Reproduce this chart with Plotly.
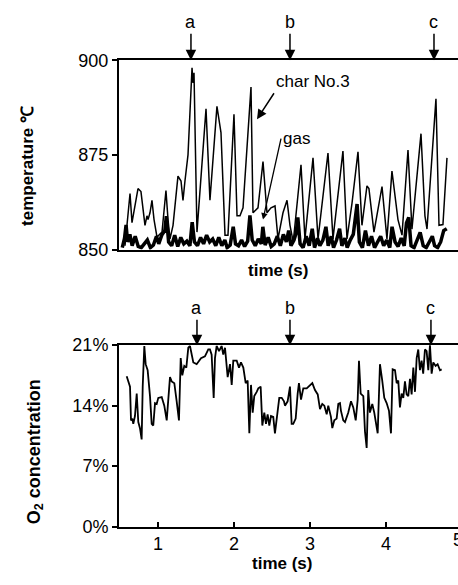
import plotly.graph_objects as go

FONT = "Liberation Sans, Arial, Helvetica, sans-serif"

# ---------------- data ----------------
char_time = [0.566, 0.579, 0.632, 0.658, 0.737, 0.776, 0.829, 0.855, 0.869, 0.895,
             0.921, 0.948, 0.987, 1.053, 1.105, 1.132, 1.158, 1.198, 1.263, 1.303,
             1.329, 1.355, 1.395, 1.448, 1.461, 1.474, 1.513, 1.632, 1.684, 1.776,
             1.829, 1.882, 1.921, 2.000, 2.040, 2.079, 2.119, 2.224, 2.250, 2.316,
             2.382, 2.434, 2.487, 2.540, 2.579, 2.645, 2.698, 2.737, 2.780, 2.882,
             2.934, 3.040, 3.106, 3.237, 3.303, 3.434, 3.487, 3.553, 3.632, 3.684,
             3.750, 3.776, 3.842, 3.948, 4.013, 4.079, 4.145, 4.158, 4.211, 4.290,
             4.342, 4.461, 4.513, 4.540, 4.658, 4.698, 4.750, 4.803]
char_temp = [851.0, 853.8, 864.8, 857.1, 866.1, 865.3, 856.4, 858.9, 857.9, 859.7,
             863.0, 857.9, 853.3, 854.6, 865.6, 857.9, 852.8, 856.4, 869.4, 868.1,
             863.0, 868.1, 875.0, 898.0, 894.0, 896.7, 854.6, 887.2, 863.0, 887.8,
             880.9, 853.8, 853.8, 885.7, 858.9, 858.9, 861.0, 892.9, 859.7, 861.0,
             873.2, 859.7, 861.0, 861.5, 852.8, 859.7, 863.0, 856.4, 852.0, 872.4,
             852.8, 874.2, 852.8, 875.5, 852.8, 876.0, 852.8, 862.2, 875.8, 856.4,
             866.8, 866.1, 854.6, 866.6, 852.8, 870.7, 860.5, 857.9, 853.8, 876.3,
             855.4, 880.6, 858.9, 855.4, 889.8, 856.4, 856.6, 874.2]

gas_time = [0.53, 0.56, 0.58, 0.60, 0.63, 0.66, 0.70, 0.74, 0.78, 0.82,
            0.86, 0.90, 0.94, 0.98, 1.01, 1.05, 1.09, 1.11, 1.14, 1.18,
            1.22, 1.26, 1.30, 1.34, 1.38, 1.42, 1.45, 1.48, 1.52, 1.56,
            1.60, 1.64, 1.68, 1.72, 1.76, 1.80, 1.84, 1.88, 1.91, 1.95,
            1.99, 2.02, 2.06, 2.10, 2.14, 2.18, 2.21, 2.24, 2.28, 2.32,
            2.36, 2.38, 2.41, 2.45, 2.49, 2.53, 2.57, 2.61, 2.65, 2.69,
            2.72, 2.75, 2.79, 2.82, 2.84, 2.87, 2.91, 2.95, 2.99, 3.03,
            3.06, 3.10, 3.13, 3.17, 3.21, 3.24, 3.28, 3.31, 3.35, 3.39,
            3.42, 3.46, 3.49, 3.53, 3.57, 3.62, 3.65, 3.69, 3.73, 3.77,
            3.81, 3.85, 3.89, 3.93, 3.97, 4.01, 4.05, 4.08, 4.12, 4.16,
            4.20, 4.24, 4.27, 4.30, 4.33, 4.37, 4.41, 4.45, 4.49, 4.53,
            4.57, 4.61, 4.64, 4.68, 4.72, 4.76, 4.80]
gas_temp = [850.5, 853.0, 856.5, 852.0, 854.0, 851.0, 853.5, 850.8, 850.5, 851.5,
            852.5, 850.5, 851.2, 853.5, 851.5, 853.8, 855.0, 858.8, 852.0, 851.0,
            853.8, 850.8, 853.2, 851.5, 852.2, 851.0, 857.2, 852.0, 851.0, 853.2,
            851.5, 853.8, 852.0, 852.8, 851.0, 853.2, 851.0, 852.5, 850.5, 851.2,
            856.0, 851.5, 851.0, 852.5, 850.8, 852.2, 859.0, 852.5, 851.0, 852.8,
            851.5, 856.0, 851.2, 853.2, 850.8, 851.5, 853.5, 851.0, 854.0, 852.0,
            855.0, 851.0, 852.5, 854.5, 858.5, 851.5, 850.5, 853.5, 851.0, 855.5,
            850.5, 853.0, 851.0, 852.5, 856.0, 851.0, 853.5, 850.5, 852.5, 855.5,
            851.0, 853.0, 850.5, 852.5, 854.0, 862.0, 852.0, 850.5, 855.0, 851.0,
            853.5, 850.5, 852.0, 853.5, 851.0, 852.5, 850.5, 856.0, 852.0, 850.8,
            853.0, 851.0, 857.0, 858.5, 851.0, 850.5, 852.5, 854.5, 851.0, 850.5,
            852.0, 853.5, 851.0, 850.5, 852.0, 855.0, 855.5]

o2_time = [0.588, 0.619, 0.632, 0.645, 0.662, 0.675, 0.697, 0.720, 0.741, 0.763,
           0.785, 0.799, 0.820, 0.838, 0.864, 0.895, 0.917, 0.938, 0.961, 0.983,
           1.004, 1.049, 1.083, 1.115, 1.136, 1.158, 1.180, 1.215, 1.246, 1.276,
           1.299, 1.320, 1.346, 1.373, 1.399, 1.421, 1.465, 1.509, 1.566, 1.618,
           1.662, 1.684, 1.706, 1.733, 1.750, 1.772, 1.803, 1.838, 1.859, 1.882,
           1.917, 1.948, 1.970, 1.991, 2.036, 2.066, 2.092, 2.123, 2.154, 2.180,
           2.202, 2.224, 2.246, 2.267, 2.299, 2.320, 2.351, 2.373, 2.399, 2.421,
           2.443, 2.465, 2.487, 2.517, 2.539, 2.570, 2.596, 2.628, 2.658, 2.671,
           2.706, 2.737, 2.759, 2.780, 2.812, 2.838, 2.855, 2.882, 2.912, 2.957,
           3.000, 3.031, 3.066, 3.102, 3.132, 3.162, 3.189, 3.220, 3.241, 3.276,
           3.294, 3.320, 3.351, 3.373, 3.395, 3.408, 3.438, 3.461, 3.504, 3.540,
           3.570, 3.602, 3.628, 3.645, 3.667, 3.702, 3.724, 3.746, 3.767, 3.789,
           3.820, 3.846, 3.891, 3.921, 3.951, 3.978, 4.009, 4.040, 4.066, 4.088,
           4.119, 4.141, 4.162, 4.184, 4.206, 4.228, 4.250, 4.272, 4.294, 4.316,
           4.338, 4.360, 4.382, 4.404, 4.425, 4.447, 4.469, 4.490, 4.513, 4.535,
           4.557, 4.579, 4.601, 4.623, 4.654, 4.680, 4.711, 4.733]
o2_pct = [17.4, 16.6, 16.2, 12.3, 12.5, 11.9, 12.8, 15.4, 12.1, 11.4,
          10.1, 16.2, 20.9, 18.8, 18.1, 15.1, 11.9, 11.7, 14.3, 14.2,
          14.9, 15.0, 14.0, 12.3, 14.7, 17.3, 16.8, 16.6, 14.5, 12.3,
          19.5, 17.5, 18.6, 18.4, 20.7, 20.9, 19.0, 18.8, 19.5, 19.7,
          20.5, 20.5, 19.9, 14.9, 19.5, 20.9, 20.3, 20.9, 19.9, 20.7,
          17.3, 18.8, 16.4, 19.2, 19.2, 18.4, 19.0, 18.4, 16.6, 16.9,
          10.8, 16.4, 13.2, 15.1, 15.6, 16.0, 16.2, 11.7, 13.2, 11.9,
          13.0, 11.7, 12.8, 12.7, 10.8, 12.8, 14.9, 14.9, 14.5, 14.0,
          14.5, 16.2, 11.9, 11.9, 12.5, 15.4, 16.6, 14.7, 16.0, 16.0,
          16.4, 16.6, 15.8, 15.3, 13.6, 14.2, 14.0, 13.0, 14.0, 12.7,
          11.4, 12.3, 12.5, 14.2, 14.3, 13.4, 12.3, 12.1, 13.2, 14.5,
          13.8, 12.3, 14.7, 19.2, 15.4, 15.1, 11.0, 9.1, 15.8, 13.2,
          14.2, 13.2, 10.8, 18.8, 16.9, 14.9, 14.3, 13.4, 10.8, 18.2,
          18.1, 16.6, 16.9, 13.8, 15.4, 14.9, 16.8, 15.3, 15.1, 17.1,
          15.3, 18.4, 15.6, 19.5, 20.5, 18.1, 19.2, 17.7, 20.5, 20.3,
          18.1, 21.0, 17.7, 19.0, 18.6, 18.8, 18.1, 18.2]

temp_ticks = [850, 875, 900]
o2_ticks = [0, 7, 14, 21]
o2_ticklabels = ["0%", "7%", "14%", "21%"]
time_ticks = [1, 2, 3, 4]
event_labels = ["a", "b", "c"]
event_time_top = [1.434, 2.737, 4.632]
event_time_bottom = [1.513, 2.737, 4.592]

# ---------------- layout geometry ----------------
W, H = 458, 585
x_range = [0.487, 4.948]
x_dom = [119 / W, 1.0]
y_top_dom = [1 - 248 / H, 1 - 52 / H]
y_bot_dom = [1 - 535 / H, 1 - 347 / H]

fig = go.Figure()
fig.add_trace(go.Scatter(x=char_time, y=char_temp, mode="lines", name="char No.3",
                         line=dict(color="black", width=1.5), xaxis="x", yaxis="y"))
fig.add_trace(go.Scatter(x=gas_time, y=gas_temp, mode="lines", name="gas",
                         line=dict(color="black", width=3.5), xaxis="x", yaxis="y"))
fig.add_trace(go.Scatter(x=o2_time, y=o2_pct, mode="lines", name="O2",
                         line=dict(color="black", width=1.8), xaxis="x2", yaxis="y2"))

axis_common = dict(showgrid=False, zeroline=False, showline=True, linecolor="black",
                   linewidth=2, tickcolor="black", tickwidth=2,
                   tickfont=dict(family=FONT, size=18, color="black"))

fig.update_layout(
    width=W, height=H, autosize=False,
    margin=dict(l=0, r=0, t=0, b=0),
    paper_bgcolor="white", plot_bgcolor="white",
    showlegend=False,
    font=dict(family=FONT, size=18, color="black"),
    xaxis=dict(domain=x_dom, range=x_range, anchor="y", mirror=True,
               ticks="", showticklabels=False, **axis_common),
    yaxis=dict(domain=y_top_dom, range=[850, 900], anchor="x",
               tickvals=temp_ticks, ticks="outside", ticklen=5, **axis_common),
    xaxis2=dict(domain=x_dom, range=x_range, anchor="y2", mirror=True,
                tickvals=time_ticks, ticks="inside", ticklen=5, **axis_common),
    yaxis2=dict(domain=y_bot_dom, range=[0, 21], anchor="x2",
                tickvals=o2_ticks, ticktext=o2_ticklabels,
                ticks="outside", ticklen=5, **axis_common),
)

ann = []
# event arrows a, b, c
for lab, t in zip(event_labels, event_time_top):
    ann.append(dict(x=t, y=1, xref="x", yref="y domain", text=lab, showarrow=True,
                    arrowhead=2, arrowsize=1.4, arrowwidth=1.5, arrowcolor="black",
                    ax=0, ay=-38, standoff=0, xanchor="center", yanchor="middle",
                    font=dict(family=FONT, size=18)))
for lab, t in zip(event_labels, event_time_bottom):
    ann.append(dict(x=t, y=1, xref="x2", yref="y2 domain", text=lab, showarrow=True,
                    arrowhead=2, arrowsize=1.4, arrowwidth=1.5, arrowcolor="black",
                    ax=0, ay=-37, standoff=0, xanchor="center", yanchor="middle",
                    font=dict(family=FONT, size=18)))

# curve labels
ann.append(dict(x=2.303, y=884.4, xref="x", yref="y", text="char No.3", showarrow=True,
                arrowhead=2, arrowsize=1.3, arrowwidth=1.5, arrowcolor="black",
                ax=17, ay=-26, xanchor="left", yanchor="bottom", standoff=0,
                font=dict(family=FONT, size=17)))
ann.append(dict(x=2.382, y=857.9, xref="x", yref="y", text="gas", showarrow=True,
                arrowhead=2, arrowsize=1.0, arrowwidth=1.3, arrowcolor="black",
                ax=18, ay=-81, xanchor="left", yanchor="middle", standoff=0,
                font=dict(family=FONT, size=17)))

# axis titles (explicitly centred)
def paper_text(xp, yp, text, size=17, angle=0):
    return dict(x=xp / W, y=1 - yp / H, xref="paper", yref="paper", showarrow=False,
                xanchor="center", yanchor="middle", textangle=angle, text=text,
                font=dict(family=FONT, size=size))

ann.append(paper_text(278, 270, "<b>time (s)</b>"))
ann.append(paper_text(282, 573, "<b>time (s)</b>"))
ann.append(paper_text(28, 161.5, "<b>temperature ℃</b>", angle=-90))
ann.append(paper_text(35, 458, "<b>O<sub>2</sub> concentration</b>", size=18, angle=-90))
# partially visible "5" tick label at the clipped right edge
ann.append(paper_text(458, 549, "5", size=18))

fig.update_layout(annotations=ann)
fig.write_html("out.html")
